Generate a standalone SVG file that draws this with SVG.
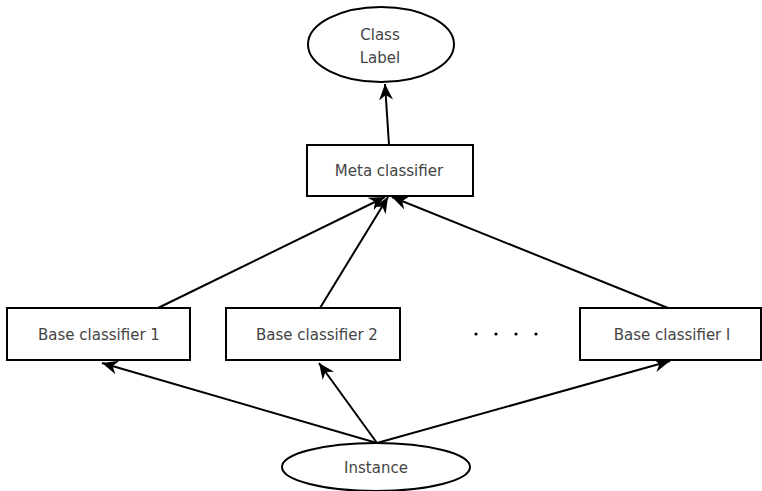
<svg xmlns="http://www.w3.org/2000/svg" width="762" height="491" viewBox="0 0 762 491">
<style>
.box{fill:#fff;stroke:#000;stroke-width:2}
.lbl{font-family:"DejaVu Sans","Noto Sans",sans-serif;font-size:15px;fill:#444;text-anchor:middle;dominant-baseline:central}
.edge{stroke:#000;stroke-width:2;fill:none;marker-end:url(#ah)}
</style>
<defs>
<marker id="ah" markerUnits="userSpaceOnUse" viewBox="-17 -8 18 16" refX="0" refY="0" markerWidth="18" markerHeight="16" orient="auto">
<path d="M0,0 L-16,-7 L-11,0 L-16,7 Z" fill="#000"/>
</marker>
</defs>
<rect width="762" height="491" fill="#fff"/>
<g id="edges">
<line class="edge" x1="389" y1="145" x2="385" y2="84"/>
<line class="edge" x1="158" y1="308" x2="385" y2="197"/>
<line class="edge" x1="320" y1="308" x2="388" y2="197"/>
<line class="edge" x1="668" y1="308" x2="392" y2="197"/>
<line class="edge" x1="377" y1="443" x2="102" y2="363"/>
<line class="edge" x1="377" y1="443" x2="319" y2="363"/>
<line class="edge" x1="377" y1="443" x2="670" y2="361"/>
</g>
<g id="class-label">
<ellipse class="box" cx="381" cy="44.5" rx="73" ry="37.5"/>
<text class="lbl" x="380" y="35">Class</text>
<text class="lbl" x="380" y="58">Label</text>
</g>
<g id="meta-classifier">
<rect class="box" x="307" y="145" width="166" height="51"/>
<text class="lbl" x="389" y="171">Meta classifier</text>
</g>
<g id="base-classifier-1">
<rect class="box" x="7" y="308" width="183" height="52"/>
<text class="lbl" x="99" y="335">Base classifier  1</text>
</g>
<g id="base-classifier-2">
<rect class="box" x="226" y="308" width="174" height="52"/>
<text class="lbl" x="317" y="335">Base classifier  2</text>
</g>
<g id="ellipsis">
<circle cx="476" cy="334" r="1.6" fill="#000"/>
<circle cx="496" cy="334" r="1.6" fill="#000"/>
<circle cx="516" cy="334" r="1.6" fill="#000"/>
<circle cx="536" cy="334" r="1.6" fill="#000"/>
</g>
<g id="base-classifier-l">
<rect class="box" x="580" y="308" width="181" height="52"/>
<text class="lbl" x="672" y="335">Base classifier  l</text>
</g>
<g id="instance">
<ellipse class="box" cx="376" cy="467" rx="94" ry="24"/>
<text class="lbl" x="376" y="468">Instance</text>
</g>
</svg>
